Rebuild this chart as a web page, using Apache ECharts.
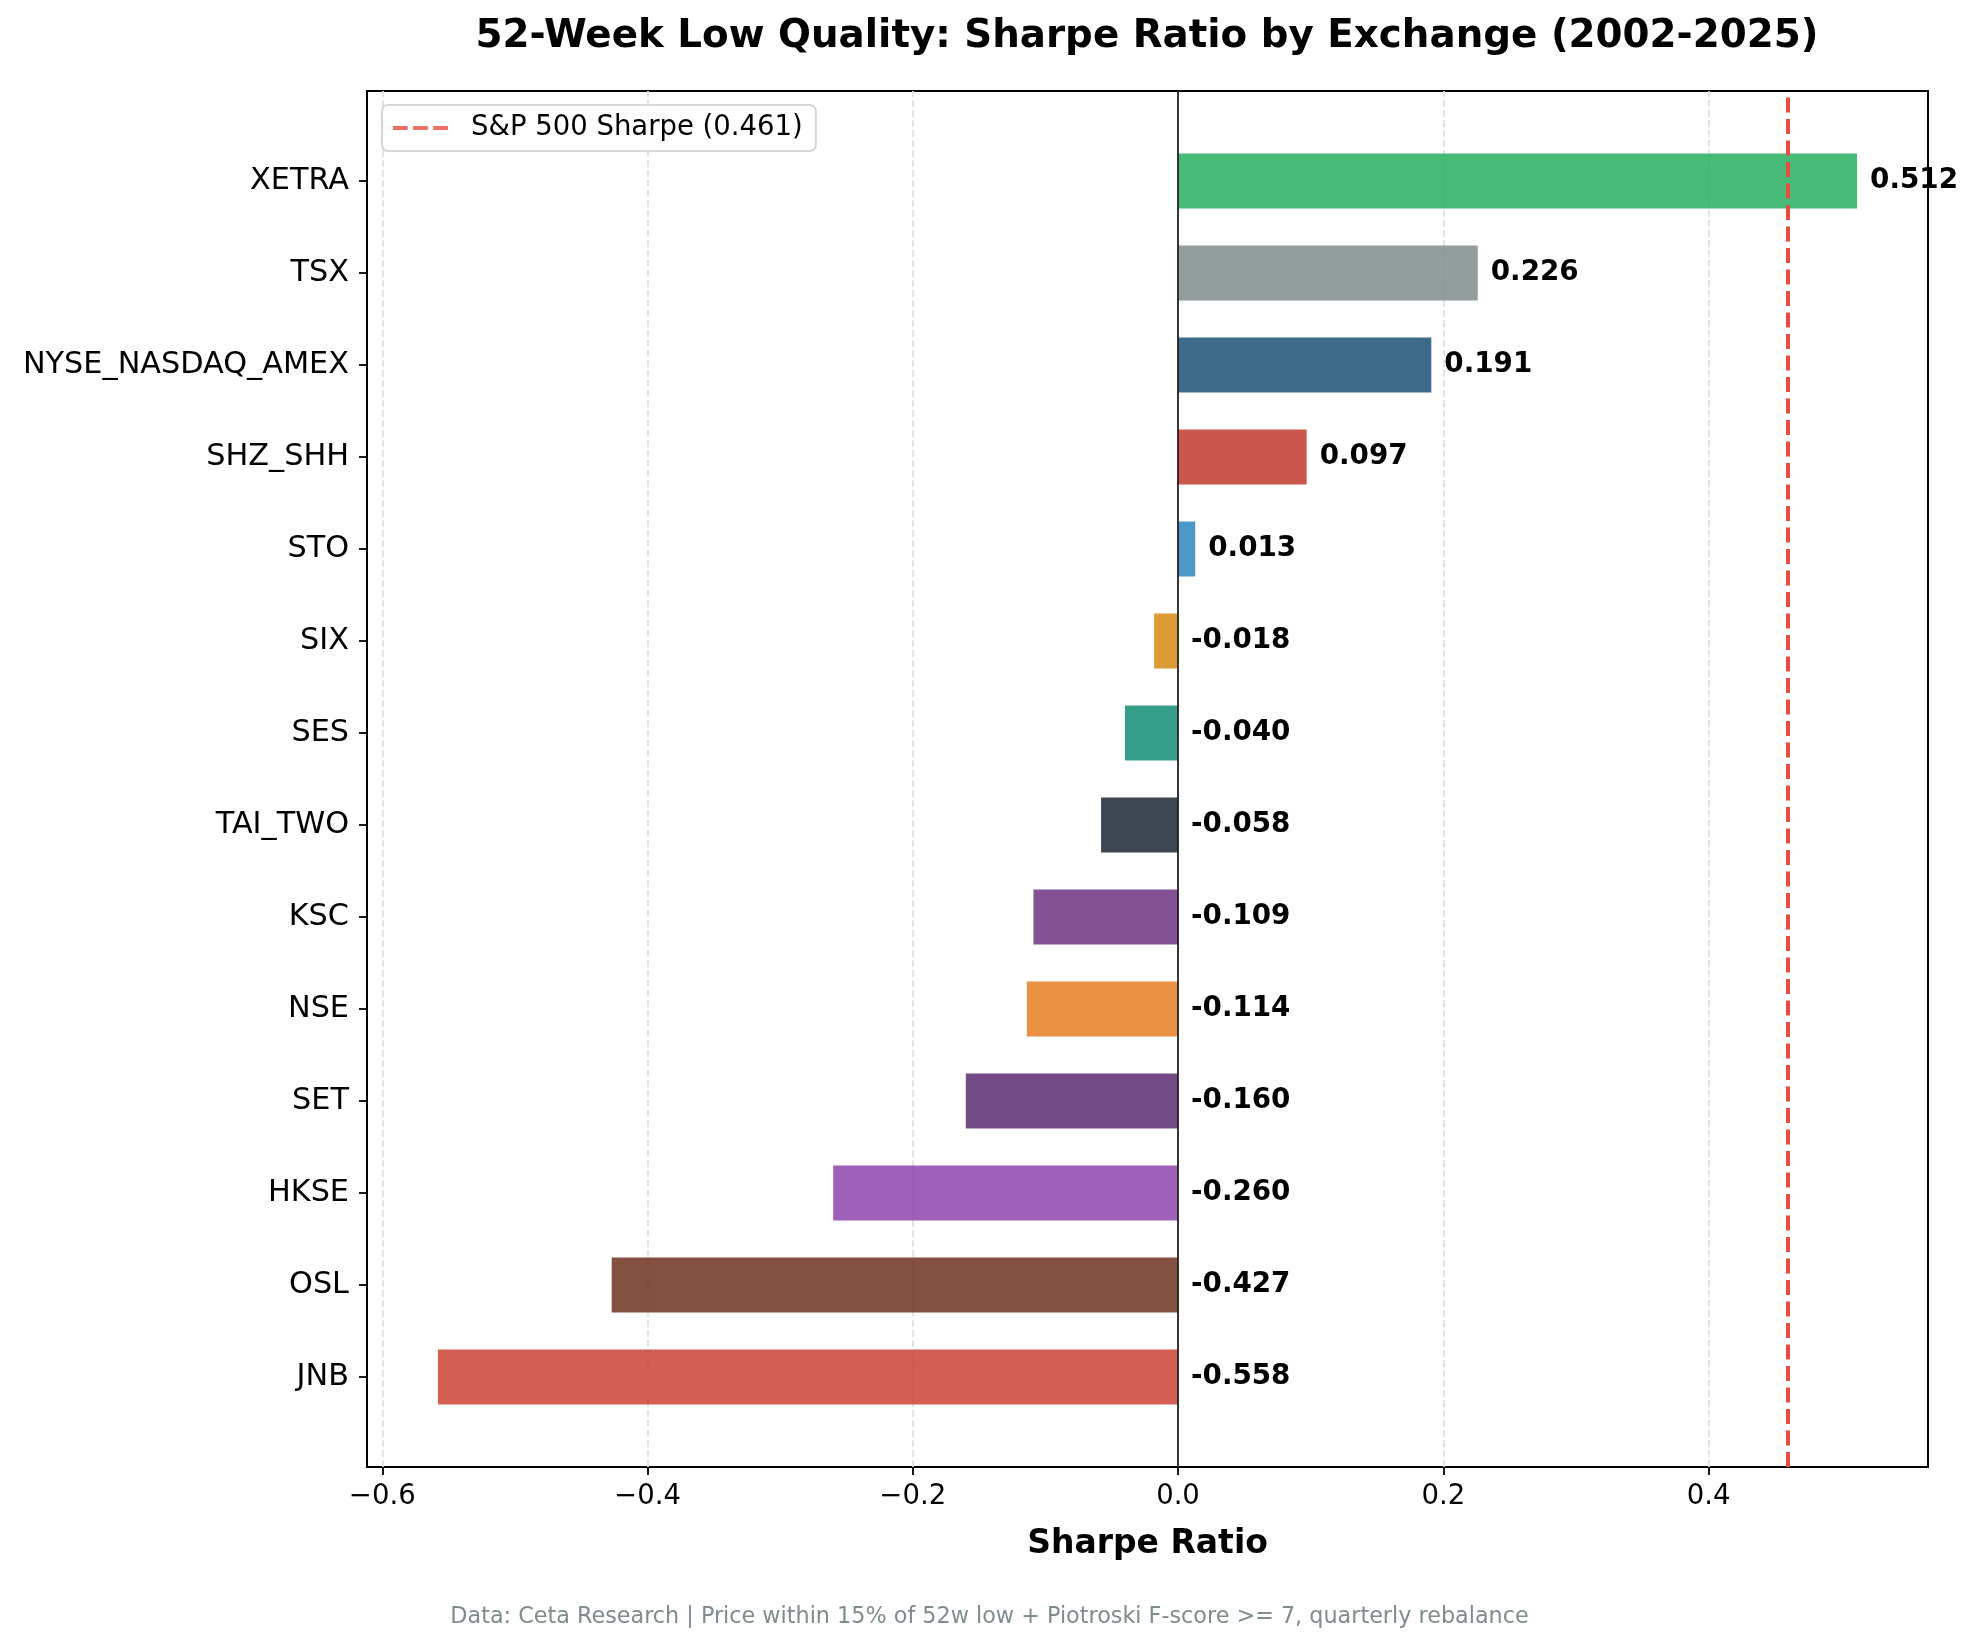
<!DOCTYPE html>
<html>
<head>
<meta charset="utf-8">
<script src="https://cdn.jsdelivr.net/npm/echarts@6/dist/echarts.min.js"></script>
<style>
  html, body { margin: 0; padding: 0; background: #fff; }
  #main { width: 1979px; height: 1647px; }
</style>
</head>
<body>
<div id="main"></div>
<script>
// data
const exchanges = ['XETRA', 'TSX', 'NYSE_NASDAQ_AMEX', 'SHZ_SHH', 'STO', 'SIX', 'SES',
    'TAI_TWO', 'KSC', 'NSE', 'SET', 'HKSE', 'OSL', 'JNB']
const sharpe = [0.512, 0.226, 0.191, 0.097, 0.013, -0.018, -0.040,
    -0.058, -0.109, -0.114, -0.160, -0.260, -0.427, -0.558]
const spSharpe = 0.461
const xTicks = [-0.6, -0.4, -0.2, 0.0, 0.2, 0.4]

// bar colours (drawn at 0.85 opacity like the original)
const barColors = ['#27ae60', '#7f8c8d', '#1a5276', '#c0392b', '#2e86c1', '#d68910', '#138d75',
    '#1b2631', '#6c3483', '#e67e22', '#5b2c6f', '#8e44ad', '#6e311e', '#cb4335']

const FONT = '"DejaVu Sans", sans-serif'
const RED = '#e74c3c'
const spName = 'S&P 500 Sharpe (' + spSharpe.toFixed(3) + ')'

// matplotlib style 5% margins on the value axis
const lo = Math.min(...sharpe), hi = Math.max(...sharpe)
const pad = (hi - lo) * 0.05
const xMin = lo - pad, xMax = hi + pad

const chart = echarts.init(document.getElementById('main'))

chart.setOption({
    animation: false,
    backgroundColor: '#fff',
    textStyle: { fontFamily: FONT },
    graphic: [
        {
            type: 'text', x: 1147, y: 37, z: 10,
            style: {
                text: '52-Week Low Quality: Sharpe Ratio by Exchange (2002-2025)',
                fontSize: 38.8, fontWeight: 'bold', fontFamily: FONT, fill: '#000',
                align: 'center', verticalAlign: 'middle'
            }
        },
        {
            type: 'text', x: 989.5, y: 1617, z: 10,
            style: {
                text: 'Data: Ceta Research | Price within 15% of 52w low + Piotroski F-score >= 7, quarterly rebalance',
                fontSize: 22.3, fontFamily: FONT, fill: '#7f8c8d',
                align: 'center', verticalAlign: 'middle'
            }
        }
    ],
    legend: {
        data: [{
            name: spName,
            // three dashes like the matplotlib handle
            icon: 'path://M0,0h15v4h-15z M20.5,0h15v4h-15z M41,0h15v4h-15z',
            itemStyle: { color: RED, borderWidth: 0 }
        }],
        left: 382, top: 105,
        orient: 'vertical',
        padding: [9, 13, 9, 11],
        itemWidth: 55, itemHeight: 4,
        backgroundColor: 'rgba(255,255,255,0.8)',
        borderColor: '#d6d6d6', borderWidth: 2, borderRadius: 6,
        textStyle: { fontSize: 27.5, color: '#000', fontFamily: FONT, padding: [0, 0, 0, 18] }
    },
    grid: [
        // the frame: full matplotlib axes box
        { left: 367, top: 91, width: 1561, height: 1376, show: true, borderColor: '#000', borderWidth: 2, backgroundColor: 'transparent' },
        // the bar band area (14 bands of one category each)
        { left: 367, top: 135, width: 1561, height: 1288 }
    ],
    xAxis: [
        {
            gridIndex: 0, type: 'value', min: xMin, max: xMax,
            name: 'Sharpe Ratio', nameLocation: 'middle', nameGap: 61,
            nameTextStyle: { fontSize: 33, fontWeight: 'bold', color: '#000', fontFamily: FONT },
            axisLine: { show: true, lineStyle: { color: '#000', width: 2 } },
            axisTick: { show: true, customValues: xTicks, length: 8, lineStyle: { color: '#000', width: 1.8 } },
            axisLabel: {
                customValues: xTicks, margin: 16, fontSize: 27.5, color: '#000', fontFamily: FONT,
                formatter: v => (v < -1e-9 ? '\u2212' : '') + Math.abs(v).toFixed(1)
            },
            splitLine: { show: false }
        },
        { gridIndex: 1, type: 'value', min: xMin, max: xMax, show: false }
    ],
    yAxis: [
        { gridIndex: 0, type: 'value', min: 0, max: 1, show: false },
        {
            gridIndex: 1, type: 'category', data: exchanges, inverse: true,
            axisLine: { show: false, onZero: false },
            axisTick: { show: true, alignWithLabel: true, length: 8, lineStyle: { color: '#000', width: 1.8 } },
            axisLabel: { fontSize: 30.3, color: '#000', margin: 18, fontFamily: FONT, padding: [5, 0, 0, 0] },
            splitLine: { show: false }
        }
    ],
    series: [
        {
            // dashed vertical grid lines at the tick values, under the bars
            type: 'scatter', xAxisIndex: 0, yAxisIndex: 0, data: [], silent: true, z: 1,
            markLine: {
                silent: true, symbol: 'none', animation: false, z: 1,
                label: { show: false },
                lineStyle: { color: '#e2e2e2', width: 1.8, type: [7, 3] },
                data: xTicks.map(v => ({ xAxis: v }))
            }
        },
        {
            type: 'bar', xAxisIndex: 1, yAxisIndex: 1, barWidth: '60%', z: 3,
            data: sharpe.map((v, i) => ({ value: v, itemStyle: { color: barColors[i], opacity: 0.85 } }))
        },
        {
            // value labels: just right of the bar end, or of zero for negative bars
            type: 'scatter', xAxisIndex: 1, yAxisIndex: 1, symbolSize: 0, silent: true, z: 6,
            itemStyle: { opacity: 1 },
            data: sharpe.map((v, i) => [Math.max(v, 0), i]),
            label: {
                show: true, position: 'right', distance: 13,
                formatter: p => sharpe[p.dataIndex].toFixed(3),
                fontSize: 27.8, fontWeight: 'bold', color: '#000', fontFamily: FONT,
                textBorderWidth: 0, opacity: 1
            }
        },
        {
            // S&P 500 reference line and the zero line
            name: spName, type: 'scatter', xAxisIndex: 0, yAxisIndex: 0, data: [], silent: true,
            color: RED, z: 5,
            markLine: {
                silent: true, symbol: 'none', animation: false, z: 5,
                label: { show: false },
                data: [
                    { xAxis: spSharpe, lineStyle: { color: RED, width: 4, type: [15, 6.5] } },
                    { xAxis: 0, lineStyle: { color: '#222', width: 1.8, type: 'solid' } }
                ]
            }
        }
    ]
})
</script>
</body>
</html>
